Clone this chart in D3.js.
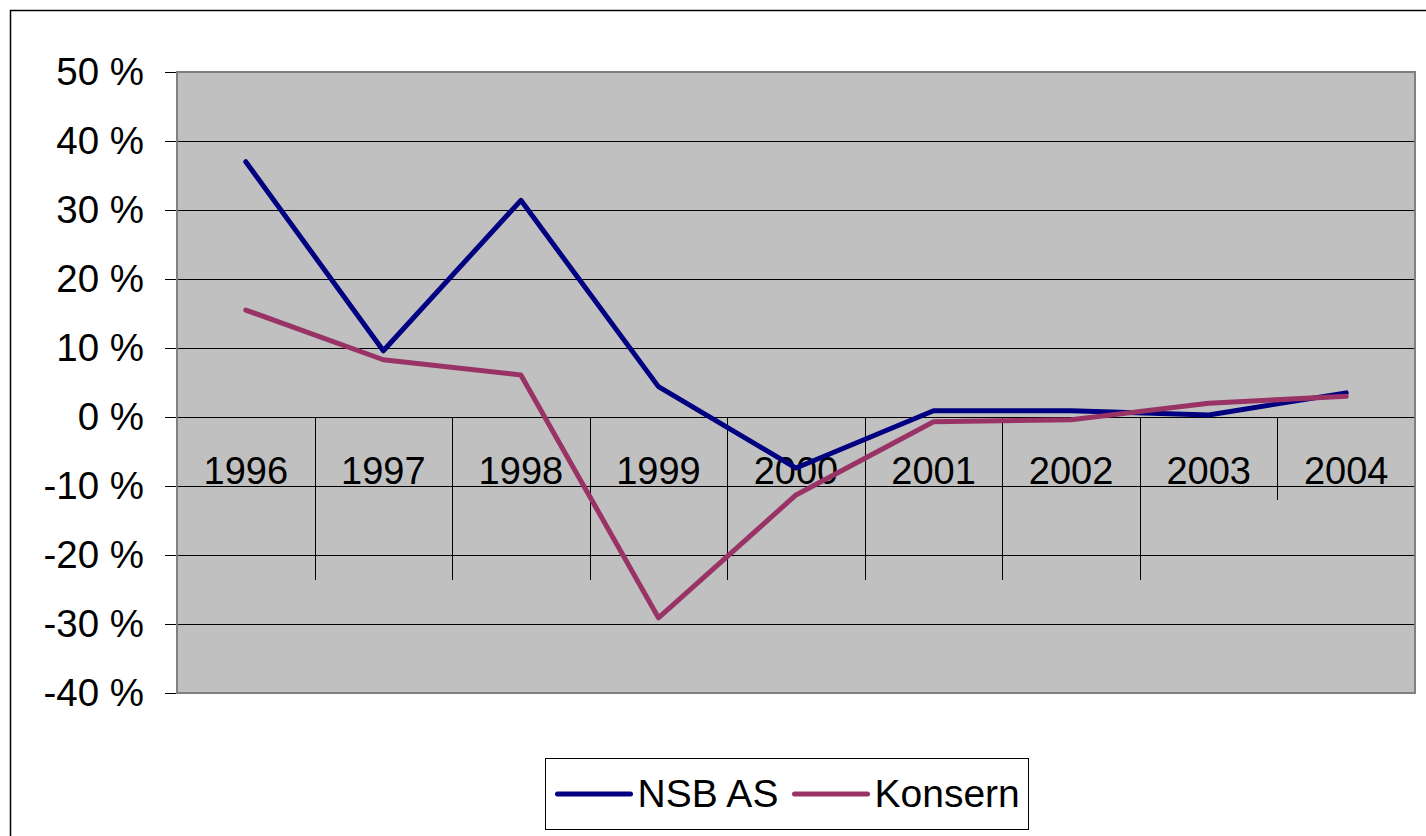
<!DOCTYPE html>
<html>
<head>
<meta charset="utf-8">
<script src="https://cdn.jsdelivr.net/npm/d3@7"></script>
<style>
  body { margin: 0; background: #fff; }
  text { font-family: "Liberation Sans", Arial, sans-serif; }
</style>
</head>
<body>
<div id="my_dataviz"></div>
<script>
// data
const years = ["1996", "1997", "1998", "1999", "2000", "2001", "2002", "2003", "2004"];
const nsbAS = [37.0, 9.6, 31.4, 4.4, -7.4, 0.9, 0.9, 0.3, 3.5];
const konsern = [15.5, 8.3, 6.1, -29.1, -11.3, -0.7, -0.4, 2.0, 3.0];
const yTicks = [50, 40, 30, 20, 10, 0, -10, -20, -30, -40];
const seriesNames = ["NSB AS", "Konsern"];
const seriesColors = ["#000080", "#993366"];

// dimensions
const W = 1426, H = 836;
const margin = { top: 72, right: 11, bottom: 143, left: 177 },
  width = W - margin.left - margin.right,
  height = H - margin.top - margin.bottom;

const root = d3.select("#my_dataviz")
  .append("svg")
  .attr("width", W)
  .attr("height", H);

// outer chart border
root.append("rect")
  .attr("x", 10.5).attr("y", 10.5)
  .attr("width", W).attr("height", H)
  .attr("fill", "none")
  .attr("stroke", "#000")
  .attr("stroke-width", 1.5);

const svg = root.append("g")
  .attr("transform", `translate(${margin.left},${margin.top})`);

const x = d3.scaleBand().domain(years).range([0, width]).padding(0);
const y = d3.scaleLinear().domain([-40, 50]).range([height, 0]);

// plot area
svg.append("rect")
  .attr("width", width).attr("height", height)
  .attr("fill", "#c0c0c0");

// horizontal gridlines
svg.selectAll(".grid")
  .data(yTicks)
  .join("line")
  .attr("x1", 0).attr("x2", width)
  .attr("y1", d => Math.round(y(d)) + 0.5)
  .attr("y2", d => Math.round(y(d)) + 0.5)
  .attr("stroke", "#000")
  .attr("stroke-width", 1);

// Y axis
const yAxis = svg.append("g")
  .call(d3.axisLeft(y).tickValues(yTicks).tickSize(12).tickPadding(21)
    .tickFormat(d => d + " %"));
yAxis.select(".domain").remove();
yAxis.selectAll("line").attr("stroke", "#000");
yAxis.selectAll("text")
  .style("font-size", "38.5px")
  .attr("fill", "#000");

// category separators crossing the zero line
const boundaries = years.slice(1).map(d => x(d)).concat([width]);
svg.selectAll(".sep")
  .data(boundaries)
  .join("line")
  .attr("x1", d => Math.round(d) + 0.5)
  .attr("x2", d => Math.round(d) + 0.5)
  .attr("y1", y(0))
  .attr("y2", (d, i) => i === 7 ? y(0) + 83 : y(0) + 163)
  .attr("stroke", "#000")
  .attr("stroke-width", 1);

// category labels
svg.selectAll(".cat")
  .data(years)
  .join("text")
  .attr("x", d => x(d) + x.bandwidth() / 2)
  .attr("y", y(0) + 67)
  .attr("text-anchor", "middle")
  .style("font-size", "38px")
  .attr("fill", "#000")
  .text(d => d);

// plot area border
svg.append("rect")
  .attr("width", width).attr("height", height)
  .attr("fill", "none")
  .attr("stroke", "#808080")
  .attr("stroke-width", 2);

// lines
const line = d3.line()
  .x((d, i) => x(years[i]) + x.bandwidth() / 2)
  .y(d => y(d));

[nsbAS, konsern].forEach((s, i) => {
  svg.append("path")
    .datum(s)
    .attr("d", line)
    .attr("fill", "none")
    .attr("stroke", seriesColors[i])
    .attr("stroke-width", 5)
    .attr("stroke-linecap", "round")
    .attr("stroke-linejoin", "round");
});

// legend
const legend = root.append("g").attr("transform", "translate(545.5,758.5)");
legend.append("rect")
  .attr("width", 483).attr("height", 71)
  .attr("fill", "#fff")
  .attr("stroke", "#000")
  .attr("stroke-width", 1);
const legX = [12, 249];
seriesNames.forEach((name, i) => {
  legend.append("line")
    .attr("x1", legX[i]).attr("x2", legX[i] + 73)
    .attr("y1", 35.5).attr("y2", 35.5)
    .attr("stroke", seriesColors[i])
    .attr("stroke-width", 5)
    .attr("stroke-linecap", "round");
  legend.append("text")
    .attr("x", legX[i] + 80)
    .attr("y", 48)
    .style("font-size", "39px")
    .attr("fill", "#000")
    .text(name);
});
</script>
</body>
</html>
